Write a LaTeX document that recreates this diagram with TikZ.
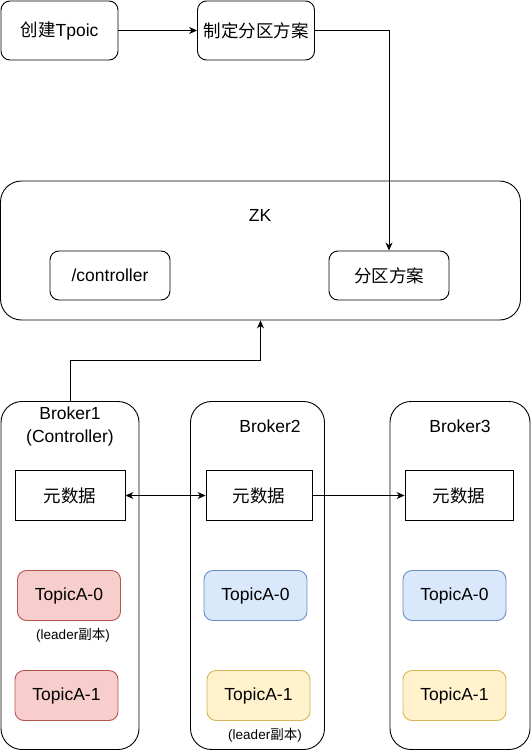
\documentclass[tikz,border=0pt]{standalone}
\usepackage{fontspec}
\setmainfont{Liberation Sans}
\newfontfamily\cjk{Noto Sans CJK SC}
\usetikzlibrary{arrows.meta}
\definecolor{redfill}{HTML}{F8CECC}
\definecolor{redline}{HTML}{B85450}
\definecolor{bluefill}{HTML}{DAE8FC}
\definecolor{blueline}{HTML}{6C8EBF}
\definecolor{yelfill}{HTML}{FFF2CC}
\definecolor{yelline}{HTML}{D6B656}
\tikzset{
  base/.style={draw=black, line width=0.9pt, inner sep=0pt, font=\fontsize{17.5}{22}\selectfont, align=center},
  rbox/.style={base, rounded corners=9pt},
  sbox/.style={base},
  bigbox/.style={draw=black, line width=0.9pt, rounded corners=21pt, inner sep=0pt},
  lbl/.style={inner sep=0pt, font=\fontsize{17.5}{23}\selectfont, align=center},
  small/.style={inner sep=0pt, font=\fontsize{13.5}{16}\selectfont},
  conn/.style={line width=0.9pt, -{Stealth[length=8pt,width=7pt]}},
  dconn/.style={line width=0.9pt, {Stealth[length=8pt,width=7pt]}-{Stealth[length=8pt,width=7pt]}},
  redp/.style={rbox, fill=redfill, draw=redline},
  bluep/.style={rbox, fill=bluefill, draw=blueline},
  yelp/.style={rbox, fill=yelfill, draw=yelline},
}
\begin{document}
\begin{tikzpicture}[x=1pt,y=-1pt]
\useasboundingbox (0,0) rectangle (532,752);
% top boxes
\node[rbox, minimum width=117pt, minimum height=59pt] (t1) at (59.5,30.5) {{\cjk 创建}Tpoic};
\node[rbox, minimum width=117pt, minimum height=59pt] (t2) at (256,30.5) {\cjk 制定分区方案};
% ZK
\node[bigbox, minimum width=520pt, minimum height=139pt] (zk) at (260.5,250.5) {};
\node[lbl] (zkl) at (260,215) {ZK};
\node[rbox, minimum width=120pt, minimum height=49pt] (ctl) at (110,275.5) {/controller};
\node[rbox, minimum width=120pt, minimum height=49pt] (fq) at (389,275.5) {\cjk 分区方案};
% brokers
\node[bigbox, minimum width=138pt, minimum height=348pt] (b1) at (70,575.5) {};
\node[bigbox, minimum width=134pt, minimum height=348pt] (b2) at (257.5,575.5) {};
\node[bigbox, minimum width=140pt, minimum height=348pt] (b3) at (460,575.5) {};
\node[lbl] (b1l) at (70,426) {Broker1\\(Controller)};
\node[lbl] (b2l) at (270,426) {Broker2};
\node[lbl] (b3l) at (460,426) {Broker3};
% metadata
\node[sbox, minimum width=110pt, minimum height=50pt] (m1) at (70,495.5) {\cjk 元数据};
\node[sbox, minimum width=106pt, minimum height=50pt] (m2) at (259,495.5) {\cjk 元数据};
\node[sbox, minimum width=108pt, minimum height=50pt] (m3) at (459,495.5) {\cjk 元数据};
% partitions
\node[redp, minimum width=103pt, minimum height=50pt] (p10) at (69,595.5) {TopicA-0};
\node[redp, minimum width=103pt, minimum height=50pt] (p11) at (66.5,695.5) {TopicA-1};
\node[bluep, minimum width=103pt, minimum height=50pt] (p20) at (255.5,595.5) {TopicA-0};
\node[yelp, minimum width=103pt, minimum height=50pt] (p21) at (258.5,695.5) {TopicA-1};
\node[bluep, minimum width=103pt, minimum height=50pt] (p30) at (454.5,595.5) {TopicA-0};
\node[yelp, minimum width=103pt, minimum height=50pt] (p31) at (454.5,695.5) {TopicA-1};
\node[small] (ld1) at (73,635) {(leader{\cjk 副本})};
\node[small] (ld2) at (265,735) {(leader{\cjk 副本})};
% connectors
\draw[conn] (t1.east) -- (t2.west);
\draw[conn] (t2.east) -| (fq.north);
\coordinate (bend) at (70,360);
\draw[conn] (b1.north) -- (bend) -| (zk.south);
\draw[dconn] (m1.east) -- (m2.west);
\draw[conn] (m2.east) -- (m3.west);
\end{tikzpicture}
\end{document}
